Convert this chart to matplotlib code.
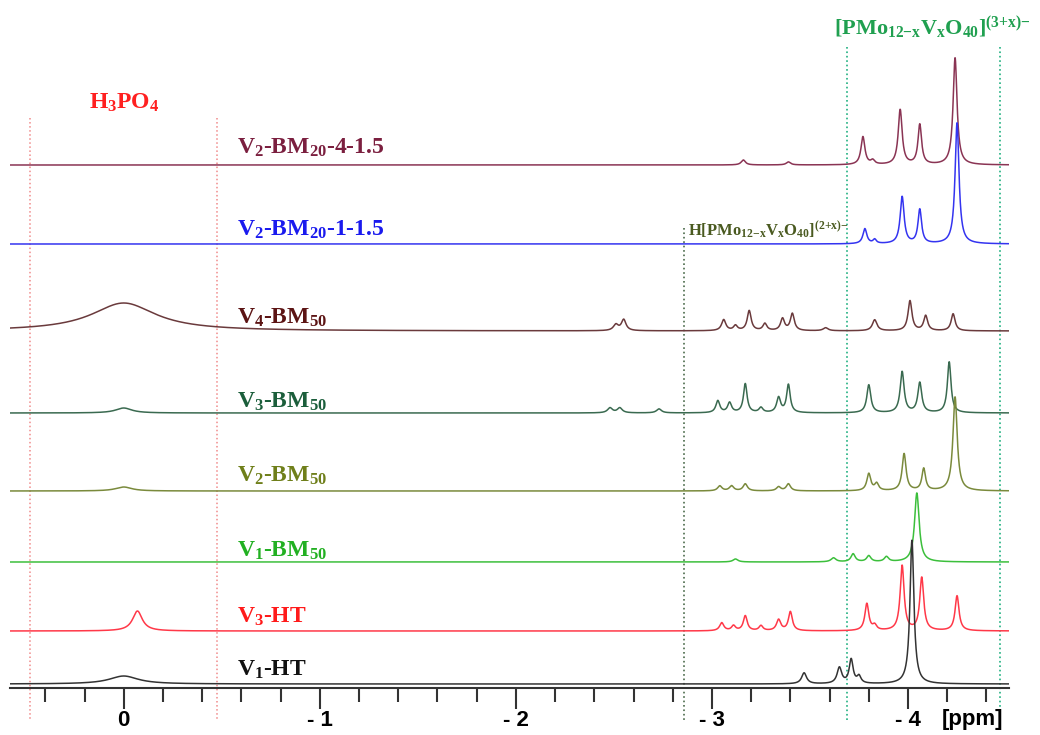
import numpy as np
import matplotlib.pyplot as plt
from matplotlib.ticker import MultipleLocator

plt.rcParams['font.family'] = ['Liberation Serif', 'DejaVu Serif']
plt.rcParams['font.weight'] = 'bold'
plt.rcParams['mathtext.fontset'] = 'custom'
plt.rcParams['mathtext.rm'] = 'Liberation Serif:bold'
plt.rcParams['mathtext.it'] = 'Liberation Serif:bold'
plt.rcParams['mathtext.bf'] = 'Liberation Serif:bold'
plt.rcParams['mathtext.default'] = 'rm'

# peaks: (shift in ppm, height, half width in ppm)
v1_ht = [(0.0, 8, 0.09), (-3.47, 11, 0.015), (-3.65, 16, 0.014),
         (-3.71, 24, 0.012), (-3.75, 7, 0.012), (-4.02, 144, 0.012)]
v3_ht = [(-0.07, 20, 0.03), (-3.05, 8, 0.013), (-3.11, 5, 0.012),
         (-3.17, 15, 0.012), (-3.25, 5, 0.012), (-3.34, 11, 0.013),
         (-3.40, 19, 0.012), (-3.79, 27, 0.012), (-3.83, 5, 0.012),
         (-3.97, 65, 0.012), (-4.07, 53, 0.012), (-4.25, 35, 0.012)]
v1_bm50 = [(-3.12, 3, 0.015), (-3.62, 4, 0.015), (-3.72, 8, 0.013),
           (-3.80, 6, 0.013), (-3.89, 5, 0.013), (-4.045, 69, 0.014)]
v2_bm50 = [(0.0, 4, 0.05), (-3.04, 5, 0.013), (-3.10, 5, 0.013),
           (-3.17, 7, 0.013), (-3.34, 4, 0.013), (-3.39, 7, 0.013),
           (-3.80, 17, 0.012), (-3.84, 7, 0.012), (-3.98, 37, 0.012),
           (-4.08, 22, 0.011), (-4.24, 94, 0.013)]
v3_bm50 = [(0.0, 5, 0.05), (-2.48, 5, 0.015), (-2.53, 5, 0.015),
           (-2.73, 4, 0.015), (-3.03, 12, 0.012), (-3.09, 10, 0.012),
           (-3.17, 29, 0.011), (-3.25, 5, 0.012), (-3.34, 15, 0.012),
           (-3.39, 28, 0.011), (-3.80, 28, 0.012), (-3.97, 41, 0.012),
           (-4.06, 30, 0.012), (-4.21, 51, 0.011)]
v4_bm50 = [(0.0, 28, 0.2), (-2.51, 6, 0.015), (-2.55, 11, 0.014),
           (-3.06, 11, 0.013), (-3.12, 5, 0.012), (-3.19, 20, 0.012),
           (-3.27, 7, 0.012), (-3.36, 12, 0.012), (-3.41, 17, 0.012),
           (-3.58, 3, 0.015), (-3.83, 11, 0.014), (-4.01, 30, 0.012),
           (-4.09, 15, 0.012), (-4.23, 17, 0.012)]
v2_bm20_1 = [(-3.78, 15, 0.012), (-3.83, 4, 0.010), (-3.97, 47, 0.012),
             (-4.06, 34, 0.011), (-4.25, 121, 0.012)]
v2_bm20_4 = [(-3.16, 5, 0.013), (-3.39, 3, 0.013), (-3.77, 28, 0.012),
             (-3.82, 4, 0.012), (-3.96, 55, 0.012), (-4.06, 40, 0.011),
             (-4.24, 107, 0.012)]

spectra = [v1_ht, v3_ht, v1_bm50, v2_bm50, v3_bm50, v4_bm50, v2_bm20_1, v2_bm20_4]
labels = ['V$_1$-HT', 'V$_3$-HT', 'V$_1$-BM$_{50}$', 'V$_2$-BM$_{50}$',
          'V$_3$-BM$_{50}$', 'V$_4$-BM$_{50}$', 'V$_2$-BM$_{20}$-1-1.5',
          'V$_2$-BM$_{20}$-4-1.5']
tick_vals = [0, -1, -2, -3, -4]
tick_text = ['0', '- 1', '- 2', '- 3', '- 4']

# layout / style
offsets = [4, 57, 126, 197, 275, 357, 444, 523]
label_y = [18, 71, 137, 212, 286, 370, 458, 540]
label_col = ['#111111', '#ff1a1a', '#22b022', '#6f7f1a', '#1b5e3b',
             '#5c1414', '#1a1aee', '#7b1f3f']
line_col = ['#333333', '#ff3848', '#3cbf3c', '#7a8a3c', '#3a6a50',
            '#6a3a3c', '#3434f0', '#8a3454']

fig = plt.figure(figsize=(10.4, 7.35), dpi=100)
ax = fig.add_axes([10/1040, 47/735, 999/1040, 688/735])

x = np.linspace(0.58, -4.515, 4000)
for i in range(len(spectra) - 1, -1, -1):
    y = np.zeros_like(x)
    for p, h, w in spectra[i]:
        y += h * w**2 / ((x - p)**2 + w**2)
    ax.plot(x, y + offsets[i], color=line_col[i], lw=1.1, zorder=3)
    ax.text(-0.58, label_y[i], labels[i], color=label_col[i], fontsize=17,
            va='center', ha='left', zorder=4)

# reference lines
for p in [0.48, -0.474]:
    ax.plot([p, p], [570, -32], ls=':', color='#f08a8a', lw=1.1, clip_on=False)
ax.plot([-2.857, -2.857], [460, -32], ls=':', color='#4a6a4a', lw=1.2, clip_on=False)
for p in [-3.69, -4.47]:
    ax.plot([p, p], [641, -32], ls=':', color='#20b080', lw=1.2, clip_on=False)

ax.text(0.0, 585, 'H$_3$PO$_4$', color='#ff2020', fontsize=17, ha='center', va='center')
ax.text(-3.62, 660, '[PMo$_{12{-}x}$V$_x$O$_{40}$]$^{(3{+}x){-}}$', color='#20a050',
        fontsize=16, ha='left', va='center')
ax.text(-2.88, 458, 'H[PMo$_{12{-}x}$V$_x$O$_{40}$]$^{(2{+}x){-}}$', color='#4a5a20',
        fontsize=12, ha='left', va='center')

ax.set_xlim(0.58, -4.515)
ax.set_ylim(0, 688)
for s in ['top', 'left', 'right']:
    ax.spines[s].set_visible(False)
ax.spines['bottom'].set_linewidth(1.5)
ax.spines['bottom'].set_color('#333333')
ax.set_yticks([])
ax.set_xticks(tick_vals)
ax.set_xticklabels(tick_text, fontfamily='Liberation Sans', fontweight='bold', fontsize=16)
ax.xaxis.set_minor_locator(MultipleLocator(0.2))
ax.tick_params(axis='x', which='major', length=15, width=1.5, pad=1, color='#333333')
ax.tick_params(axis='x', which='minor', length=10, width=1.5, color='#333333')
ax.text(-4.17, -31, '[ppm]', fontfamily='Liberation Sans', fontweight='bold',
        fontsize=16, ha='left', va='center')

fig.savefig('out.png', dpi=100)
